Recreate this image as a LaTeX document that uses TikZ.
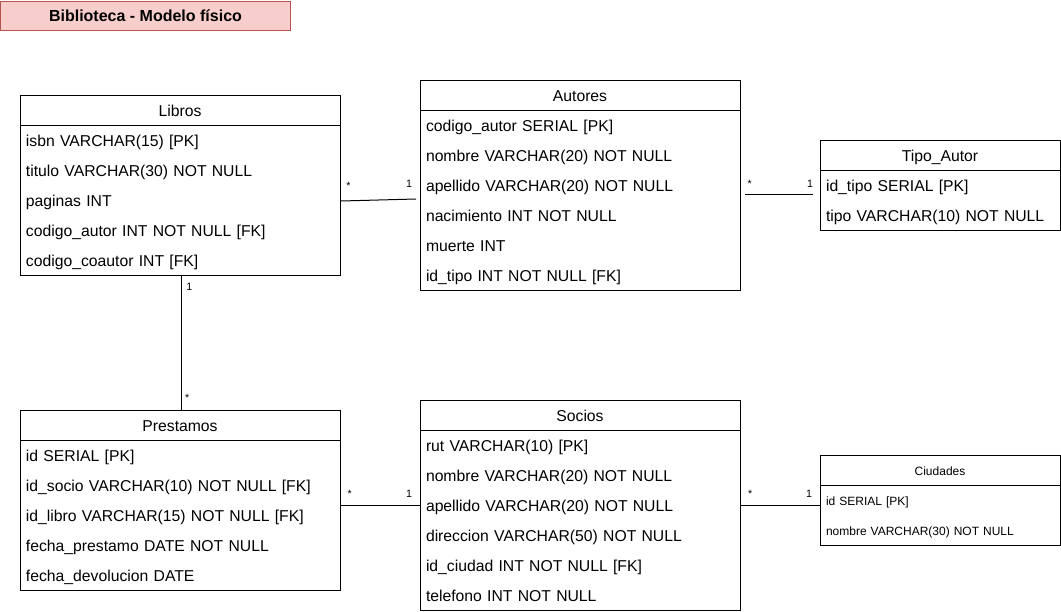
\documentclass[tikz,border=0pt]{standalone}
\usepackage{fontspec}
\setmainfont{Liberation Sans}
\usetikzlibrary{positioning}
\definecolor{rosa}{HTML}{F8CECC}
\definecolor{rojo}{HTML}{B85450}

\begin{document}
\begin{tikzpicture}[x=0.75pt,y=-0.75pt,line width=0.75pt,
    every node/.style={outer sep=0pt},
    titulo/.style={draw=rojo, fill=rosa, minimum width=217.5pt, minimum height=21.75pt, font=\fontsize{12}{14}\selectfont\bfseries},
    cabecera/.style={draw, minimum width=240pt, minimum height=22.5pt, text height=12pt, text depth=2pt, font=\fontsize{11.8}{14}\selectfont},
    fila/.style={minimum height=22.5pt, text width=231pt, inner xsep=4.5pt, align=left, text height=12pt, text depth=2pt, font=\fontsize{11.8}{14}\selectfont},
    chica/.style={minimum width=180pt},
    filachica/.style={text width=171pt},
    mini/.style={text height=9pt, text depth=1.5pt, font=\fontsize{9}{11}\selectfont},
    etiq/.style={inner sep=0pt, font=\fontsize{8}{9}\selectfont}]
  \useasboundingbox (0,0) rectangle (1061,611);

  \node[titulo] (titulo) at (145.5,15.5) {Biblioteca - Modelo físico};

  % Libros
  \node[cabecera] (libros) at (180,110) {Libros};
  \node[fila, below=0pt of libros] (lib1) {isbn VARCHAR(15) [PK]};
  \node[fila, below=0pt of lib1] (lib2) {titulo VARCHAR(30) NOT NULL};
  \node[fila, below=0pt of lib2] (lib3) {paginas INT};
  \node[fila, below=0pt of lib3] (lib4) {codigo\_autor INT NOT NULL [FK]};
  \node[fila, below=0pt of lib4] (lib5) {codigo\_coautor INT [FK]};
  \draw (libros.south west) rectangle (lib5.south east);

  % Autores
  \node[cabecera] (autores) at (580,95) {Autores};
  \node[fila, below=0pt of autores] (aut1) {codigo\_autor SERIAL [PK]};
  \node[fila, below=0pt of aut1] (aut2) {nombre VARCHAR(20) NOT NULL};
  \node[fila, below=0pt of aut2] (aut3) {apellido VARCHAR(20) NOT NULL};
  \node[fila, below=0pt of aut3] (aut4) {nacimiento INT NOT NULL};
  \node[fila, below=0pt of aut4] (aut5) {muerte INT};
  \node[fila, below=0pt of aut5] (aut6) {id\_tipo INT NOT NULL [FK]};
  \draw (autores.south west) rectangle (aut6.south east);

  % Tipo_Autor
  \node[cabecera, chica] (tipo) at (940,155) {Tipo\_Autor};
  \node[fila, filachica, below=0pt of tipo] (tip1) {id\_tipo SERIAL [PK]};
  \node[fila, filachica, below=0pt of tip1] (tip2) {tipo VARCHAR(10) NOT NULL};
  \draw (tipo.south west) rectangle (tip2.south east);

  % Prestamos
  \node[cabecera] (prestamos) at (180,425) {Prestamos};
  \node[fila, below=0pt of prestamos] (pre1) {id SERIAL [PK]};
  \node[fila, below=0pt of pre1] (pre2) {id\_socio VARCHAR(10) NOT NULL [FK]};
  \node[fila, below=0pt of pre2] (pre3) {id\_libro VARCHAR(15) NOT NULL [FK]};
  \node[fila, below=0pt of pre3] (pre4) {fecha\_prestamo DATE NOT NULL};
  \node[fila, below=0pt of pre4] (pre5) {fecha\_devolucion DATE};
  \draw (prestamos.south west) rectangle (pre5.south east);

  % Socios
  \node[cabecera] (socios) at (580,415) {Socios};
  \node[fila, below=0pt of socios] (soc1) {rut VARCHAR(10) [PK]};
  \node[fila, below=0pt of soc1] (soc2) {nombre VARCHAR(20) NOT NULL};
  \node[fila, below=0pt of soc2] (soc3) {apellido VARCHAR(20) NOT NULL};
  \node[fila, below=0pt of soc3] (soc4) {direccion VARCHAR(50) NOT NULL};
  \node[fila, below=0pt of soc4] (soc5) {id\_ciudad INT NOT NULL [FK]};
  \node[fila, below=0pt of soc5] (soc6) {telefono INT NOT NULL};
  \draw (socios.south west) rectangle (soc6.south east);

  % Ciudades
  \node[cabecera, chica, mini] (ciudades) at (940,470) {Ciudades};
  \node[fila, filachica, mini, below=0pt of ciudades] (ciu1) {id SERIAL [PK]};
  \node[fila, filachica, mini, below=0pt of ciu1] (ciu2) {nombre VARCHAR(30) NOT NULL};
  \draw (ciudades.south west) rectangle (ciu2.south east);

  % relaciones
  \draw ([xshift=0.75pt,yshift=-0.75pt]lib3.east) --
    node[etiq, pos=0, anchor=base west, xshift=4pt, yshift=9pt] {*}
    node[etiq, pos=1, anchor=base east, xshift=-3pt, yshift=9pt] {1}
    ([xshift=-3pt,yshift=0.75pt]aut3.south west);
  \draw ([xshift=3.75pt,yshift=-6.75pt]aut3.east) --
    node[etiq, pos=0, anchor=base west, xshift=2pt, yshift=5pt] {*}
    node[etiq, pos=1, anchor=base east, xshift=0pt, yshift=5pt] {1}
    ([xshift=-5.25pt,yshift=-6.75pt]tip1.west);
  \draw ([xshift=0.75pt]lib5.south) --
    node[etiq, pos=0, anchor=north west, xshift=4pt, yshift=-6pt] {1}
    node[etiq, pos=1, anchor=north west, xshift=3pt, yshift=12pt] {*}
    ([xshift=0.75pt]prestamos.north);
  \draw ([xshift=0.75pt]prestamos.east |- soc3.west) --
    node[etiq, pos=0, anchor=base west, xshift=5pt, yshift=5.5pt] {*}
    node[etiq, pos=1, anchor=base east, xshift=-6pt, yshift=5.5pt] {1}
    (soc3.west);
  \draw (soc3.east) --
    node[etiq, pos=0, anchor=base west, xshift=6pt, yshift=5.5pt] {*}
    node[etiq, pos=1, anchor=base east, xshift=-6pt, yshift=5.5pt] {1}
    (soc3.east -| ciudades.west);
\end{tikzpicture}
\end{document}
